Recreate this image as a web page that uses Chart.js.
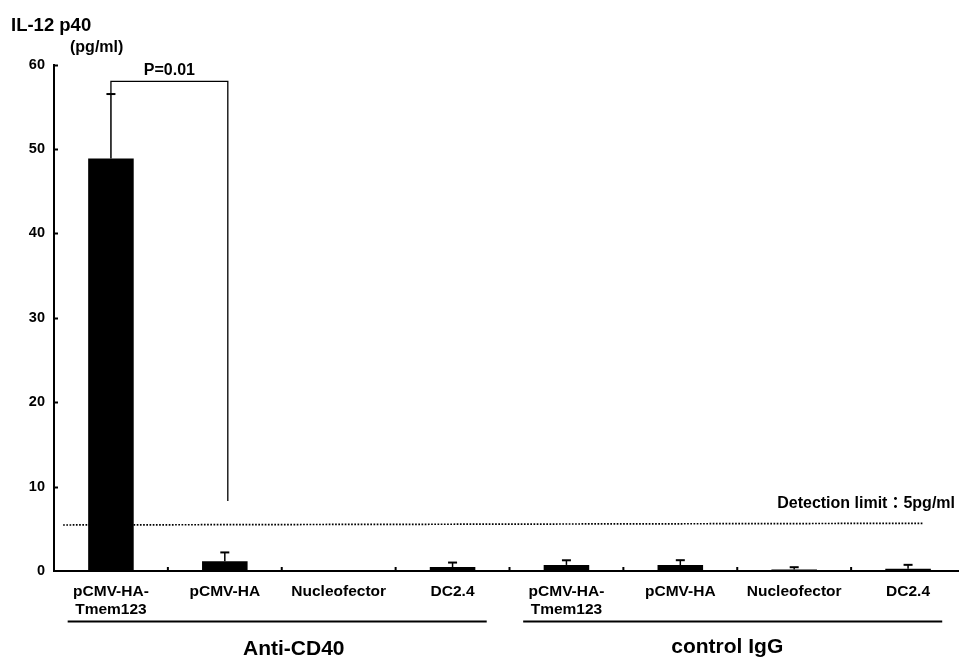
<!DOCTYPE html>
<html>
<head>
<meta charset="utf-8">
<script src="https://cdn.jsdelivr.net/npm/chart.js@4"></script>
<style>
  html, body { margin: 0; padding: 0; background: #fff; overflow: hidden; width: 959px; height: 657px; }
  canvas { display: block; }
</style>
</head>
<body>
<canvas id="c" width="966" height="657"></canvas>
<script>
// ---- data ----
const categories = [['pCMV-HA-', 'Tmem123'], 'pCMV-HA', 'Nucleofector', 'DC2.4',
                    ['pCMV-HA-', 'Tmem123'], 'pCMV-HA', 'Nucleofector', 'DC2.4'];
const meanValues = [48.85, 1.15, 0, 0.47, 0.72, 0.7, 0.17, 0.28];
const sdValues   = [7.65, 1.05, 0, 0.53, 0.55, 0.58, 0.28, 0.45];
const yTickValues = [0, 10, 20, 30, 40, 50, 60];
const groupNames = ['Anti-CD40', 'control IgG'];
const groupFirst = [0, 4];
const groupLast  = [3, 7];
const detectionLimitLine = [5.45, 5.65];   // value at left end, right end (as drawn)
const detectionLabel = 'Detection limit：5pg/ml';
const pValueLabel = 'P=0.01';
const bracketCats = [0, 1];
const bracketTop = 58.0;
const bracketRightEnd = 8.3;
const yTitle = 'IL-12 p40';
const yUnit = '(pg/ml)';

const FONT = '"Liberation Sans", Arial, Helvetica, "Noto Sans CJK JP", sans-serif';
Chart.defaults.color = '#000';
Chart.defaults.font.family = FONT;

const overlay = {
  id: 'overlay',
  afterDraw(chart) {
    const ctx = chart.ctx;
    const x = chart.scales.x, y = chart.scales.y;
    const meta = chart.getDatasetMeta(0);
    ctx.save();
    ctx.strokeStyle = '#000';
    ctx.fillStyle = '#000';

    // inner y ticks
    ctx.lineWidth = 2;
    y.ticks.forEach(t => {
      if (t.value === 0) return;
      const py = Math.round(y.getPixelForValue(t.value)) + 0.5;
      ctx.beginPath(); ctx.moveTo(x.left, py); ctx.lineTo(x.left + 4, py); ctx.stroke();
    });
    // inner x ticks at category boundaries
    for (let i = 1; i < categories.length; i++) {
      const px = (x.getPixelForValue(i - 1) + x.getPixelForValue(i)) / 2;
      ctx.beginPath(); ctx.moveTo(px, y.bottom); ctx.lineTo(px, y.bottom - 4); ctx.stroke();
    }

    // error bars (upper only)
    meta.data.forEach((bar, i) => {
      if (!sdValues[i]) return;
      const top = y.getPixelForValue(meanValues[i] + sdValues[i]);
      ctx.lineWidth = 1.5;
      ctx.beginPath(); ctx.moveTo(bar.x, bar.y); ctx.lineTo(bar.x, top); ctx.stroke();
      ctx.lineWidth = 2;
      ctx.beginPath(); ctx.moveTo(bar.x - 4.5, top); ctx.lineTo(bar.x + 4.5, top); ctx.stroke();
    });

    // detection limit dotted line
    const cw = x.getPixelForValue(1) - x.getPixelForValue(0);
    const dx0 = x.left + 0.08 * cw;
    const dx1 = x.getPixelForValue(7) + 0.13 * cw;
    ctx.lineWidth = 1.7;
    ctx.setLineDash([1.7, 1.5]);
    ctx.beginPath();
    ctx.moveTo(dx0, y.getPixelForValue(detectionLimitLine[0]));
    ctx.lineTo(dx1, y.getPixelForValue(detectionLimitLine[1]));
    ctx.stroke();
    ctx.setLineDash([]);
    ctx.font = 'bold 16px ' + FONT;
    ctx.textAlign = 'right';
    ctx.textBaseline = 'alphabetic';
    ctx.fillText(detectionLabel, 955, y.getPixelForValue(detectionLimitLine[1]) - 15);

    // significance bracket
    const bx0 = x.getPixelForValue(bracketCats[0]);
    const bx1 = x.getPixelForValue(bracketCats[1]) + 3;
    const by = y.getPixelForValue(bracketTop);
    ctx.lineWidth = 1.3;
    ctx.beginPath();
    ctx.moveTo(bx0, y.getPixelForValue(meanValues[bracketCats[0]] + sdValues[bracketCats[0]]));
    ctx.lineTo(bx0, by);
    ctx.lineTo(bx1, by);
    ctx.lineTo(bx1, y.getPixelForValue(bracketRightEnd));
    ctx.stroke();
    ctx.font = 'bold 16px ' + FONT;
    ctx.textAlign = 'center';
    ctx.fillText(pValueLabel, (bx0 + bx1) / 2, by - 6.5);

    // y title
    ctx.textAlign = 'left';
    ctx.font = 'bold 18.5px ' + FONT;
    ctx.fillText(yTitle, 11, 30.5);
    ctx.font = 'bold 16px ' + FONT;
    ctx.fillText(yUnit, 70, 51.5);

    // group lines and labels
    const labelShift = [12, -10];
    const baselines = [655, 653];
    groupNames.forEach((g, k) => {
      const left = x.getPixelForValue(groupFirst[k]) - cw / 2 + 0.12 * cw;
      const right = x.getPixelForValue(groupLast[k]) + cw / 2 - 0.2 * cw;
      ctx.lineWidth = 2;
      ctx.beginPath(); ctx.moveTo(left, 621.5); ctx.lineTo(right, 621.5); ctx.stroke();
      const mid = (x.getPixelForValue(groupFirst[k]) + x.getPixelForValue(groupLast[k])) / 2;
      ctx.font = 'bold 21px ' + FONT;
      ctx.textAlign = 'center';
      ctx.fillText(g, mid + labelShift[k], baselines[k]);
    });
    ctx.restore();
  }
};

new Chart(document.getElementById('c'), {
  type: 'bar',
  data: {
    labels: categories,
    datasets: [{
      data: meanValues,
      backgroundColor: '#000',
      borderWidth: 0,
      barPercentage: 0.4,
      categoryPercentage: 1.0
    }]
  },
  options: {
    responsive: false,
    animation: false,
    events: [],
    layout: { padding: { left: 0, top: 64.5, right: 1, bottom: 0 } },
    plugins: { legend: { display: false }, tooltip: { enabled: false } },
    scales: {
      x: {
        type: 'category',
        offset: true,
        grid: { display: false, drawTicks: false },
        border: { display: true, color: '#000', width: 2 },
        ticks: {
          font: { family: FONT, size: 15.5, weight: 'bold', lineHeight: 1.13 },
          color: '#000',
          padding: 12,
          maxRotation: 0,
          autoSkip: false
        },
        afterFit(s) { s.height = 657 - 571; }
      },
      y: {
        min: 0,
        max: 60,
        afterBuildTicks(s) { s.ticks = yTickValues.map(v => ({ value: v })); },
        grid: { display: false, drawTicks: false },
        border: { display: true, color: '#000', width: 2 },
        ticks: {
          font: { family: FONT, size: 14.5, weight: 'bold' },
          color: '#000',
          padding: 9
        },
        afterFit(s) { s.width = 54; }
      }
    }
  },
  plugins: [overlay]
});
</script>
</body>
</html>
